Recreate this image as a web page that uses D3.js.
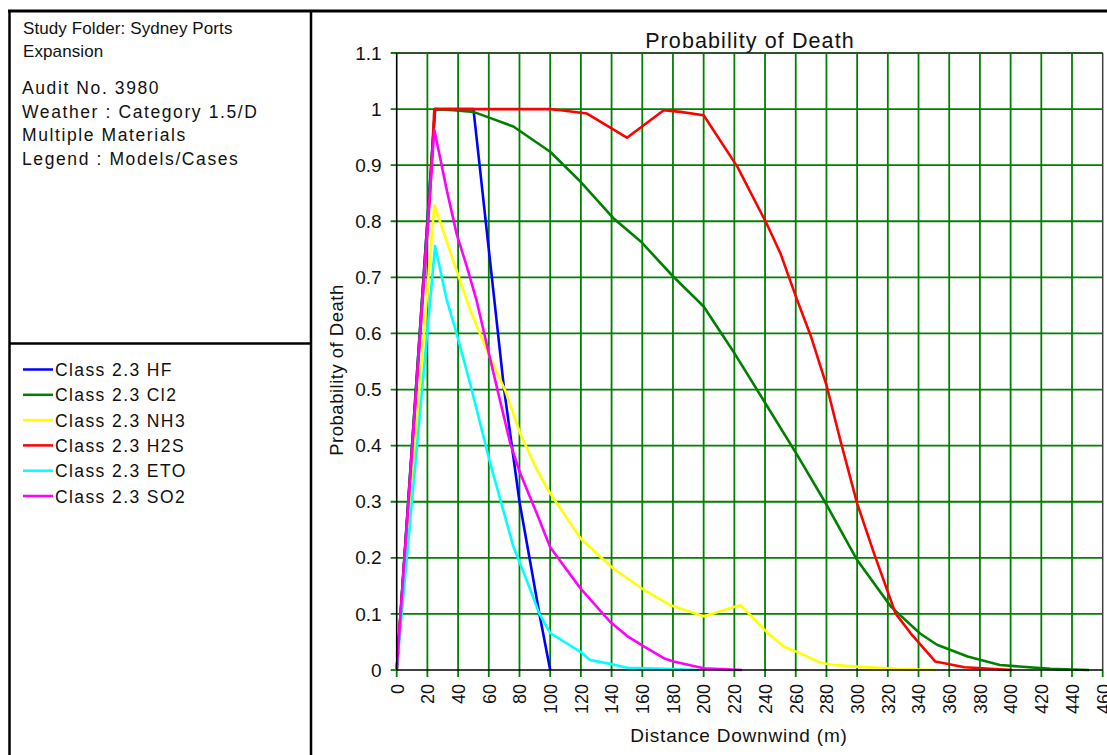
<!DOCTYPE html>
<html>
<head>
<meta charset="utf-8">
<script src="https://cdn.jsdelivr.net/npm/d3@7"></script>
<style>
  html, body { margin: 0; padding: 0; background: #fff; }
  svg { display: block; font-family: "Liberation Sans", Arial, sans-serif; }
</style>
</head>
<body>
<svg id="chart" width="1107" height="755"></svg>
<script>
// Probability of death vs. distance downwind, per released material.
const seriesNames = ["Class 2.3 HF", "Class 2.3 Cl2", "Class 2.3 NH3", "Class 2.3 H2S", "Class 2.3 ETO", "Class 2.3 SO2"];
const seriesColors = ["#0000ff", "#008000", "#ffff00", "#ff0000", "#00ffff", "#ff00ff"];

const hfDist  = [0, 25, 50, 54, 58, 62, 66, 70, 75, 80, 86.5, 93, 100];
const hfProb  = [0, 1, 1, 0.9, 0.8, 0.7, 0.6, 0.5, 0.4, 0.3, 0.2, 0.1, 0];

const cl2Dist = [0, 25, 37, 50, 62, 76, 100, 120, 141, 159, 180, 200, 220, 241, 261, 280, 300, 322, 341, 352, 372, 393, 426, 451];
const cl2Prob = [0, 1, 0.998, 0.995, 0.983, 0.969, 0.924, 0.87, 0.806, 0.764, 0.702, 0.648, 0.565, 0.472, 0.383, 0.295, 0.196, 0.113, 0.065, 0.045, 0.024, 0.009, 0.002, 0];

const nh3Dist = [0, 24.5, 47.8, 61, 70.6, 80.4, 91.3, 100, 120, 141, 161, 178, 200, 224, 241, 252, 262, 276, 285, 300, 325, 351];
const nh3Prob = [0, 0.829, 0.642, 0.556, 0.499, 0.422, 0.357, 0.315, 0.234, 0.181, 0.143, 0.116, 0.096, 0.116, 0.068, 0.042, 0.031, 0.013, 0.009, 0.006, 0.002, 0];

const h2sDist = [0, 22, 24.5, 100, 107, 124, 150, 174, 185, 200, 222, 241, 250, 261, 270, 280, 289, 300, 311, 325, 335, 351, 370, 401];
const h2sProb = [0, 0.86, 1, 1, 0.998, 0.992, 0.949, 0.998, 0.995, 0.989, 0.897, 0.796, 0.743, 0.659, 0.594, 0.508, 0.41, 0.297, 0.208, 0.101, 0.065, 0.015, 0.005, 0];

const etoDist = [0, 25, 32.6, 39, 47.8, 61, 76, 84, 93, 100, 120, 126, 141, 150, 174, 197];
const etoProb = [0, 0.756, 0.66, 0.6, 0.511, 0.368, 0.22, 0.165, 0.1, 0.066, 0.032, 0.018, 0.01, 0.004, 0.002, 0];

const so2Dist = [0, 24.5, 32.6, 39, 45.7, 52.2, 61, 74, 80.4, 91.3, 100, 119.6, 139, 151, 161, 174, 180.4, 200, 225];
const so2Prob = [0, 0.963, 0.856, 0.778, 0.719, 0.657, 0.553, 0.404, 0.351, 0.279, 0.219, 0.146, 0.086, 0.059, 0.042, 0.021, 0.015, 0.003, 0];

const xTicks = [0, 20, 40, 60, 80, 100, 120, 140, 160, 180, 200, 220, 240, 260, 280, 300, 320, 340, 360, 380, 400, 420, 440, 460];
const yTicks = [0, 0.1, 0.2, 0.3, 0.4, 0.5, 0.6, 0.7, 0.8, 0.9, 1, 1.1];
const yTickLabels = ["0", "0.1", "0.2", "0.3", "0.4", "0.5", "0.6", "0.7", "0.8", "0.9", "1", "1.1"];

const infoLines = ["Audit No. 3980", "Weather : Category 1.5/D", "Multiple Materials", "Legend : Models/Cases"];

const seriesDist = [hfDist, cl2Dist, nh3Dist, h2sDist, etoDist, so2Dist];
const seriesProb = [hfProb, cl2Prob, nh3Prob, h2sProb, etoProb, so2Prob];
const series = seriesNames.map((name, i) => ({
  name, color: seriesColors[i],
  points: seriesDist[i].map((d, j) => [d, seriesProb[i][j]])
}));

const svg = d3.select("#chart");
const GRID = "#008000";
const FONT = "'Liberation Sans', Arial, sans-serif";

// Plot area
const x = d3.scaleLinear().domain([0, 460]).range([396.7, 1102.7]);
const y = d3.scaleLinear().domain([0, 1.1]).range([670, 53]);

// Grid
const grid = svg.append("g");
grid.selectAll("line.v").data(xTicks.filter(d => d > 0 && d < 460)).join("line")
  .attr("x1", d => x(d)).attr("x2", d => x(d))
  .attr("y1", y(1.1)).attr("y2", y(0) + 7)
  .attr("stroke", GRID).attr("stroke-width", 1.8);
grid.selectAll("line.h").data(yTicks.filter(d => d > 0)).join("line")
  .attr("x1", x(0) - 6).attr("x2", x(460))
  .attr("y1", d => y(d)).attr("y2", d => y(d))
  .attr("stroke", GRID).attr("stroke-width", 1.8);
// tick stubs at the origin and right edge
svg.append("line").attr("x1", x(0) - 6).attr("x2", x(0)).attr("y1", y(0)).attr("y2", y(0))
  .attr("stroke", GRID).attr("stroke-width", 1.8);
svg.append("line").attr("x1", x(0)).attr("x2", x(0)).attr("y1", y(0)).attr("y2", y(0) + 7)
  .attr("stroke", GRID).attr("stroke-width", 1.8);
svg.append("line").attr("x1", x(460)).attr("x2", x(460)).attr("y1", y(0)).attr("y2", y(0) + 7)
  .attr("stroke", GRID).attr("stroke-width", 1.8);

// Plot frame: grey top/right edges
svg.append("line").attr("x1", x(0)).attr("x2", x(460)).attr("y1", y(1.1)).attr("y2", y(1.1))
  .attr("stroke", "#404040").attr("stroke-width", 1.5);
svg.append("line").attr("x1", x(460)).attr("x2", x(460)).attr("y1", y(1.1)).attr("y2", y(0))
  .attr("stroke", "#404040").attr("stroke-width", 1.5);

// Series lines
const line = d3.line().x(d => x(d[0])).y(d => y(d[1]));
svg.append("g").selectAll("path").data(series).join("path")
  .attr("d", d => line(d.points))
  .attr("fill", "none")
  .attr("stroke", d => d.color)
  .attr("stroke-width", 2.6)
  .attr("stroke-linejoin", "round");

// Black axes
svg.append("line").attr("x1", x(0)).attr("x2", x(0)).attr("y1", y(1.1)).attr("y2", y(0))
  .attr("stroke", "#000").attr("stroke-width", 1.6);
svg.append("line").attr("x1", x(0)).attr("x2", x(460)).attr("y1", y(0)).attr("y2", y(0))
  .attr("stroke", "#000").attr("stroke-width", 1.6);

// Tick labels via d3 axes (domain and tick lines drawn above)
const yAxis = svg.append("g").attr("transform", `translate(${x(0)},0)`)
  .call(d3.axisLeft(y).tickValues(yTicks).tickFormat((d, i) => yTickLabels[i]).tickSize(0).tickPadding(15));
yAxis.select(".domain").remove();
yAxis.selectAll("text").attr("font-size", 19).attr("fill", "#111").attr("font-family", FONT);

const xAxis = svg.append("g").attr("transform", `translate(0,${y(0)})`)
  .call(d3.axisBottom(x).tickValues(xTicks).tickFormat(d3.format("d")).tickSize(0));
xAxis.select(".domain").remove();
xAxis.selectAll("text")
  .attr("font-size", 18).attr("fill", "#111").attr("font-family", FONT)
  .attr("text-anchor", "end")
  .attr("transform", "rotate(-90)")
  .attr("x", -14).attr("y", 0).attr("dy", "0.35em");

// Titles
svg.append("text").attr("x", 750).attr("y", 48).attr("text-anchor", "middle")
  .attr("font-size", 21.5).attr("letter-spacing", 1.1).attr("fill", "#111").text("Probability of Death");
svg.append("text").attr("x", 739).attr("y", 742).attr("text-anchor", "middle")
  .attr("font-size", 19).attr("letter-spacing", 0.8).attr("fill", "#111").text("Distance Downwind (m)");
svg.append("text").attr("transform", "translate(343,370) rotate(-90)").attr("text-anchor", "middle")
  .attr("font-size", 18.5).attr("letter-spacing", 0.5).attr("fill", "#111").text("Probability of Death");

// Side panel frame
const frame = svg.append("g").attr("stroke", "#000").attr("fill", "none");
frame.append("line").attr("x1", 8).attr("x2", 1107).attr("y1", 11).attr("y2", 11).attr("stroke-width", 3);
frame.append("line").attr("x1", 9.5).attr("x2", 9.5).attr("y1", 10).attr("y2", 755).attr("stroke-width", 2.5);
frame.append("line").attr("x1", 311).attr("x2", 311).attr("y1", 10).attr("y2", 755).attr("stroke-width", 2.5);
frame.append("line").attr("x1", 9).attr("x2", 311).attr("y1", 343.5).attr("y2", 343.5).attr("stroke-width", 2.5);

// Study information text
const info = svg.append("g").attr("fill", "#111");
info.append("text").attr("x", 23).attr("y", 34).attr("font-size", 17).attr("letter-spacing", 0.1)
  .text("Study Folder: Sydney Ports");
info.append("text").attr("x", 23).attr("y", 57).attr("font-size", 17).attr("letter-spacing", 0.1)
  .text("Expansion");
info.selectAll("text.info").data(infoLines).join("text").attr("class", "info")
  .attr("x", 22).attr("y", (d, i) => 94 + i * 23.7)
  .attr("font-size", 17.5).attr("letter-spacing", 1.6)
  .text(d => d);

// Legend
const legend = svg.append("g");
const rows = legend.selectAll("g").data(series).join("g")
  .attr("transform", (d, i) => `translate(0,${369.5 + i * 25.3})`);
rows.append("line").attr("x1", 23).attr("x2", 53).attr("y1", 0).attr("y2", 0)
  .attr("stroke", d => d.color).attr("stroke-width", 2.5);
rows.append("text").attr("x", 55).attr("y", 6.5).attr("font-size", 17.5)
  .attr("letter-spacing", 1.4).attr("fill", "#111").text(d => d.name);
</script>
</body>
</html>
